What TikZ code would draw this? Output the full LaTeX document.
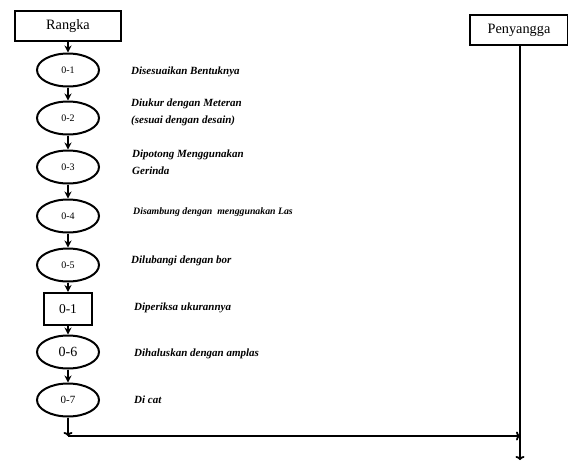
\documentclass[tikz,border=0pt]{standalone}
\usepackage{fontspec}
\setmainfont{Liberation Serif}
\usetikzlibrary{shapes.geometric, arrows.meta, positioning}

\begin{document}
\begin{tikzpicture}[
    x=1pt, y=-1pt,
    mainbox/.style={draw, rectangle, line width=2.2pt, minimum height=30pt,
      inner sep=2pt, font=\fontsize{14.3}{15}\selectfont},
    oval/.style={draw, ellipse, line width=2pt, minimum width=62pt,
      minimum height=33pt, inner sep=0pt, font=\fontsize{10}{11}\selectfont},
    checkbox/.style={draw, rectangle, line width=2pt, minimum width=48pt,
      minimum height=32pt, inner sep=0pt, font=\fontsize{13.5}{14}\selectfont},
    desc/.style={anchor=west, align=left, inner sep=0pt,
      font=\fontsize{11}{17}\selectfont\bfseries\itshape},
    arrow/.style={line width=1.8pt, -{Stealth[length=7pt, width=7pt]}},
    openarrow/.style={line width=1.8pt, -{To[length=4pt, width=9pt]}}
]
\useasboundingbox (0,0) rectangle (568,461);

% operasi rangka
\node[mainbox, minimum width=106pt] (rangka) at (68,26) {Rangka};
\node[oval] (o1) at (68,70) {0-1};
\node[oval] (o2) at (68,118) {0-2};
\node[oval] (o3) at (68,167) {0-3};
\node[oval] (o4) at (68,216) {0-4};
\node[oval] (o5) at (68,265) {0-5};
\node[checkbox] (p1) at (68,309) {0-1};
\node[oval, font=\fontsize{14}{15}\selectfont, text depth=-3pt] (o6) at (68,352) {0-6};
\node[oval, font=\fontsize{11}{12}\selectfont] (o7) at (68,400) {0-7};

% penyangga
\node[mainbox, minimum width=98pt] (pen) at (519,30) {Penyangga};

% keterangan
\node[desc] (d1) at (131,72) {Disesuaikan Bentuknya};
\node[desc] (d2) at (131,112) {Diukur dengan Meteran\\(sesuai dengan desain)};
\node[desc] (d3) at (132,162) {Dipotong Menggunakan\\Gerinda};
\node[desc, font=\fontsize{9.8}{11}\selectfont\bfseries\itshape] (d4) at (133,212) {Disambung dengan\ \ menggunakan Las};
\node[desc] (d5) at (131,261) {Dilubangi dengan bor};
\node[desc] (d6) at (134,308) {Diperiksa ukurannya};
\node[desc] (d7) at (134,354) {Dihaluskan dengan amplas};
\node[desc] (d8) at (134,400) {Di cat};

\coordinate (corner) at (68,436);
\coordinate (join) at (520,436);
\coordinate (pentop) at (520,45);
\coordinate (penend) at (520,460);

\draw[arrow] (rangka) -- (o1);
\draw[arrow] (o1) -- (o2);
\draw[arrow] (o2) -- (o3);
\draw[arrow] (o3) -- (o4);
\draw[arrow] (o4) -- (o5);
\draw[arrow] (o5) -- (p1);
\draw[arrow] (p1) -- (o6);
\draw[arrow] (o6) -- (o7);
\draw[openarrow] (o7) -- (corner);
\draw[openarrow] (corner) -- (join);
\draw[openarrow] (pentop) -- (penend);
\end{tikzpicture}
\end{document}
